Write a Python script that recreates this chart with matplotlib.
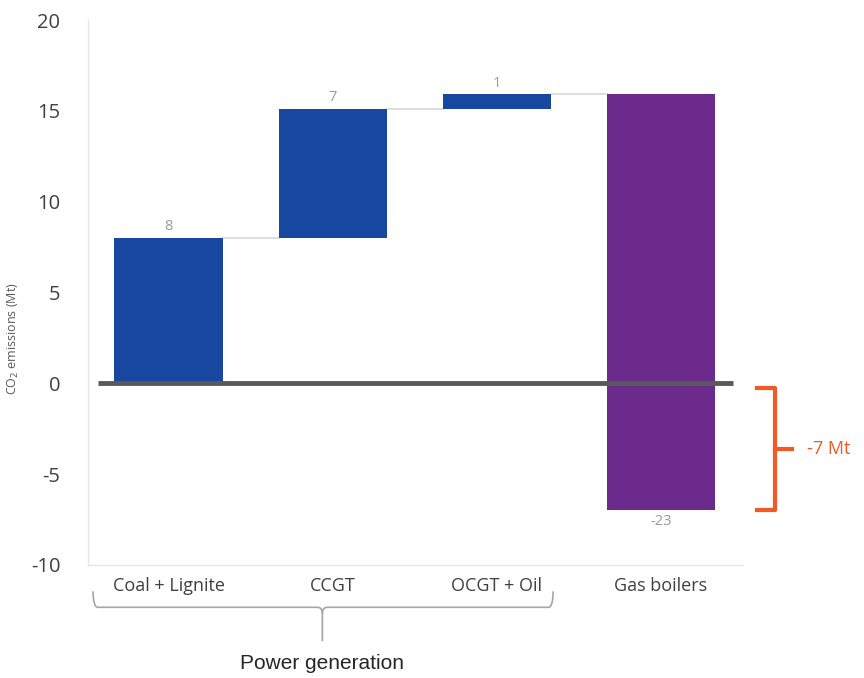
import matplotlib.pyplot as plt
from matplotlib.path import Path
from matplotlib.patches import PathPatch

categories = ['Coal + Lignite', 'CCGT', 'OCGT + Oil', 'Gas boilers']
changes = [8.0, 7.1, 0.8, -22.9]
value_labels = ['8', '7', '1', '-23']
bar_colors = ['#17479E', '#17479E', '#17479E', '#6C2A8C']
y_ticks = [-10, -5, 0, 5, 10, 15, 20]
group_label = 'Power generation'
net_label = '-7 Mt'

plt.rcParams['font.family'] = ['Open Sans', 'DejaVu Sans']
plt.rcParams['axes.unicode_minus'] = False

fig = plt.figure(figsize=(8.64, 6.78), dpi=100)
ax = fig.add_axes([0.102, 0.1667, 0.758, 0.8038])

# waterfall: running totals
bottoms = []
tops = []
total = 0.0
for i, c in enumerate(changes):
    if i < len(changes) - 1:
        bottoms.append(total)
        total += c
        tops.append(total)
    else:
        # last bar spans from the running total down to the net result
        bottoms.append(total + c)
        tops.append(total)
heights = [t - b for b, t in zip(bottoms, tops)]
x = list(range(len(categories)))
width = 0.66

ax.bar(x, heights, bottom=bottoms, width=width, color=bar_colors, zorder=2)

# connector lines between bars
for i in range(len(categories) - 1):
    level = tops[i]
    ax.plot([x[i] + width / 2, x[i + 1] - width / 2], [level, level],
            color='#D9D9D9', lw=1.2, zorder=1)

# value labels
for i, lab in enumerate(value_labels):
    if changes[i] >= 0:
        ax.text(x[i], tops[i] + 0.2, lab, ha='center', va='bottom',
                color='#999999', fontsize=10.5)
    else:
        ax.text(x[i], bottoms[i] - 0.2, lab, ha='center', va='top',
                color='#999999', fontsize=10.5)

# zero line
ax.plot([-0.43, 3.44], [0, 0], color='#595959', lw=3.5, zorder=3,
        solid_capstyle='butt')

ax.set_xlim(-0.49, 3.5)
ax.set_ylim(-10, 20)
ax.set_yticks(y_ticks)
ax.set_xticks(x)
ax.set_xticklabels(categories, fontsize=13, color='#404040')
ax.tick_params(axis='y', labelsize=14.5, colors='#404040', length=0, pad=20)
ax.tick_params(axis='x', length=0, pad=9)
for side in ['top', 'right']:
    ax.spines[side].set_visible(False)
for side in ['left', 'bottom']:
    ax.spines[side].set_color('#E6E6E6')
    ax.spines[side].set_linewidth(1)

fig.text(0.016, 0.5, 'CO$_2$ emissions (Mt)', rotation=90, ha='center',
         va='center', fontsize=9, color='#595959')

# brace under power generation categories
bx0, bxm, bx1 = -0.46, 0.937, 2.343
y_top, y_mid, y_tip = -11.45, -12.33, -14.2
verts = [(bx0, y_top), (bx0, y_mid), (bx0 + 0.03, y_mid),
         (bxm - 0.03, y_mid), (bxm, y_mid), (bxm, y_mid - 0.35),
         (bxm, y_tip)]
codes = [Path.MOVETO, Path.CURVE3, Path.CURVE3, Path.LINETO,
         Path.CURVE3, Path.CURVE3, Path.LINETO]
ax.add_patch(PathPatch(Path(verts, codes), fill=False, color='#A6A6A6',
                       lw=1.2, clip_on=False))
verts2 = [(bx1, y_top), (bx1, y_mid), (bx1 - 0.03, y_mid),
          (bxm + 0.03, y_mid), (bxm, y_mid), (bxm, y_mid - 0.35)]
codes2 = [Path.MOVETO, Path.CURVE3, Path.CURVE3, Path.LINETO,
          Path.CURVE3, Path.CURVE3]
ax.add_patch(PathPatch(Path(verts2, codes2), fill=False, color='#A6A6A6',
                       lw=1.2, clip_on=False))
ax.text(bxm, -15.4, group_label, ha='center', va='center', fontsize=15,
        color='#262626', family=['Liberation Sans Narrow', 'Liberation Sans'])

# orange bracket showing net change
net = bottoms[-1]
orange = '#F15A24'
ox0, ox1, oxt = 3.585, 3.695, 3.80
ax.plot([ox0, ox1, ox1, ox0], [-0.25, -0.25, net, net], color=orange, lw=3,
        clip_on=False, solid_joinstyle='round')
ax.plot([ox1, oxt], [(net - 0.25) / 2] * 2, color=orange, lw=3, clip_on=False)
ax.text(3.89, (net - 0.25) / 2, net_label, ha='left', va='center',
        fontsize=13, color=orange)

fig.savefig('out.png', dpi=100)
